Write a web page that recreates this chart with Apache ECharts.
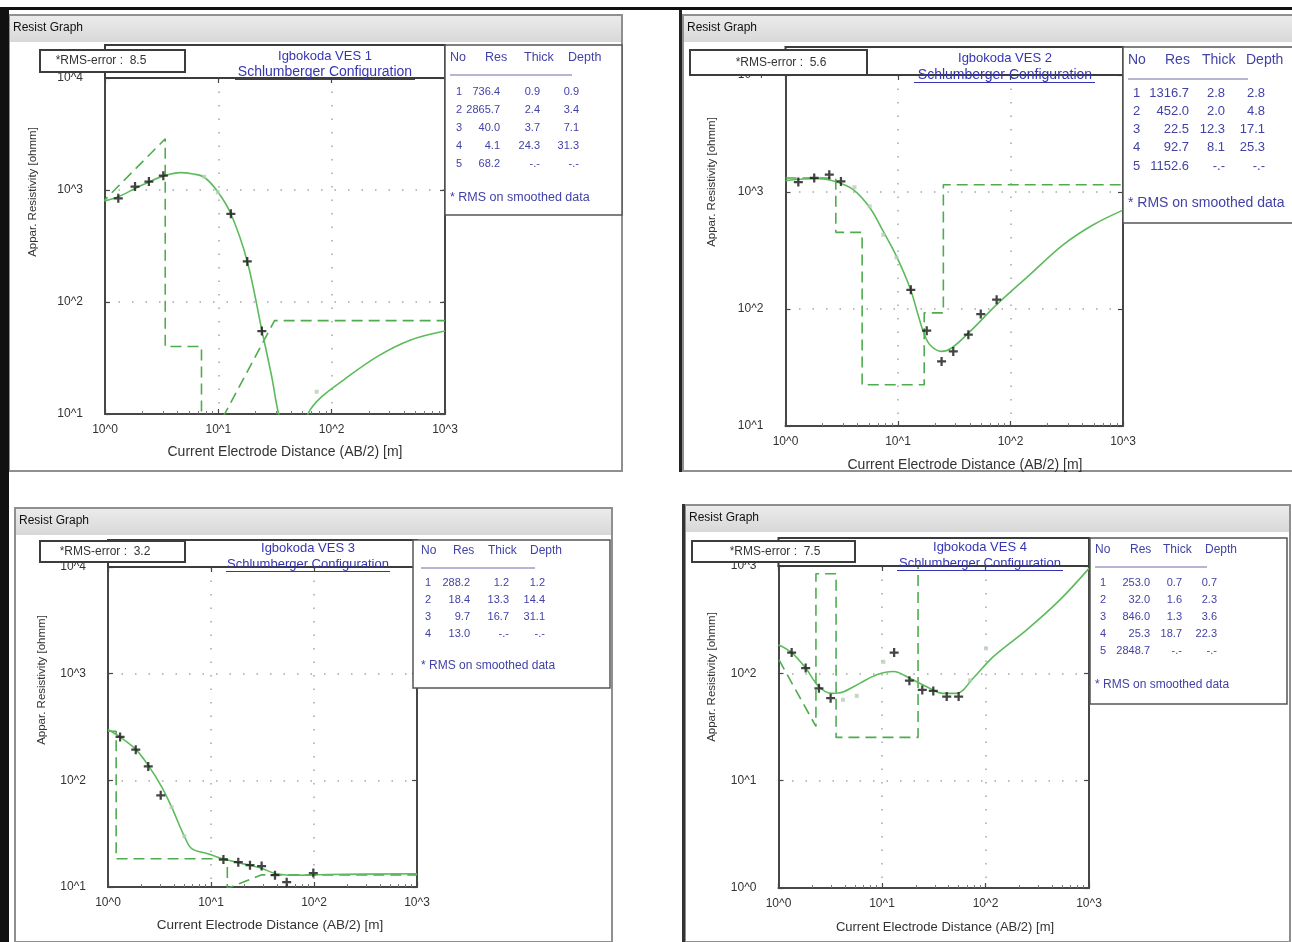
<!DOCTYPE html>
<html>
<head>
<meta charset="utf-8">
<title>Igbokoda VES resistivity curves</title>
<script src="https://cdn.jsdelivr.net/npm/echarts@6/dist/echarts.min.js"></script>
<style>
html, body { margin: 0; padding: 0; background: #fff; }
#main { width: 1292px; height: 942px; }
</style>
</head>
<body>
<div id="main"></div>
<script>
// x: AB/2 [m], y: apparent resistivity [ohmm]
const xRange = [1, 1000];
const xTickLabels = ['10^0', '10^1', '10^2', '10^3'];
const yTickLabelsHigh = ['10^1', '10^2', '10^3', '10^4'];
const yTickLabelsLow = ['10^0', '10^1', '10^2', '10^3'];
const layerHeader = ['No', 'Res', 'Thick', 'Depth'];

// VES 1
const ves1Measured = [[1.31, 843], [1.84, 1072], [2.44, 1189], [3.27, 1343], [12.9, 613], [18.0, 230], [24.2, 55]];
const ves1Smoothed = [[7.5, 1315], [9.9, 955], [73.8, 15.8]];
const ves1Curve = [[1, 800], [1.31, 870], [1.84, 1030], [2.44, 1180], [3.27, 1330], [4.6, 1430], [6.0, 1390], [7.5, 1300],
  [9.7, 990], [12.9, 613], [18, 230], [24.2, 56], [29.6, 21.5], [33.9, 10.2], [40, 6], [47, 4.8], [55, 6.2], [62.3, 10.2],
  [80, 14], [127, 20.1], [250, 32.4], [492, 45.6], [1000, 55]];
const ves1Model = [[0.9, 736.4], [3.4, 2865.7], [3.4, 40], [7.1, 40], [7.1, 4.1], [31.3, 68.2], [1000, 68.2]];
const ves1Layers = [['1', '736.4', '0.9', '0.9'], ['2', '2865.7', '2.4', '3.4'], ['3', '40.0', '3.7', '7.1'],
  ['4', '4.1', '24.3', '31.3'], ['5', '68.2', '-.-', '-.-']];

// VES 2
const ves2Measured = [[1.30, 1217], [1.80, 1320], [2.45, 1406], [3.11, 1232], [13.0, 146], [18.0, 65.3], [24.4, 35.6],
  [31.0, 43.4], [42.2, 60.3], [54.4, 90.6], [75.3, 120]];
const ves2Smoothed = [[4.1, 1097], [5.6, 754], [7.4, 431], [9.7, 276]];
const ves2Curve = [[1, 1250], [1.44, 1290], [2.0, 1300], [2.85, 1217], [4.0, 1047], [5.64, 730], [7.4, 460], [9.7, 282],
  [12.8, 151], [15.1, 89], [16.8, 64], [19.2, 49.5], [24.4, 43.4], [30, 46.4], [43.8, 64.4], [75.3, 109], [148, 196],
  [295, 355], [545, 525], [1000, 700]];
const ves2Model = [[1, 1316.7], [2.8, 1316.7], [2.8, 452], [4.8, 452], [4.8, 22.5], [17.1, 22.5], [17.1, 92.7],
  [25.3, 92.7], [25.3, 1152.6], [1000, 1152.6]];
const ves2Layers = [['1', '1316.7', '2.8', '2.8'], ['2', '452.0', '2.0', '4.8'], ['3', '22.5', '12.3', '17.1'],
  ['4', '92.7', '8.1', '25.3'], ['5', '1152.6', '-.-', '-.-']];

// VES 3
const ves3Measured = [[1.31, 255], [1.86, 194], [2.46, 135], [3.25, 72.3], [13.2, 18.1], [18.4, 17.1], [23.9, 16.0],
  [31.0, 15.7], [41.8, 12.9], [54.3, 11.1], [98.5, 13.5]];
const ves3Smoothed = [[4.15, 56], [5.5, 29.9]];
const ves3Curve = [[1, 300], [1.31, 255], [1.86, 195], [2.46, 138], [3.32, 87], [4.15, 56], [5.5, 30], [6.5, 22.9],
  [9.3, 20.5], [13.2, 18.3], [22.5, 16.2], [31, 15], [41.8, 13.4], [65, 12.9], [137, 13.1], [1000, 13.3]];
const ves3Model = [[1, 288.2], [1.2, 288.2], [1.2, 18.4], [14.4, 18.4], [14.4, 9.7], [31.1, 13.0], [1000, 13.0]];
const ves3Layers = [['1', '288.2', '1.2', '1.2'], ['2', '18.4', '13.3', '14.4'], ['3', '9.7', '16.7', '31.1'],
  ['4', '13.0', '-.-', '-.-']];

// VES 4
const ves4Measured = [[1.34, 156], [1.83, 112], [2.46, 72.6], [3.19, 58.6], [13.1, 156], [18.4, 85.5], [24.5, 70],
  [31.3, 68.5], [42.2, 60.7], [55, 60.7]];
const ves4Smoothed = [[4.2, 56.7], [5.7, 61.7], [10.3, 128], [71, 86], [101, 171]];
const ves4Curve = [[1, 185], [1.34, 156], [1.83, 112], [2.46, 75], [3.27, 65], [4.2, 67], [6.13, 81], [8.9, 97],
  [12.9, 104], [18.6, 90], [27, 75], [39, 65], [52.6, 65], [76, 90], [119, 143], [250, 254], [523, 483], [1000, 950]];
const ves4Model = [[0.7, 253], [2.3, 32], [2.3, 846], [3.6, 846], [3.6, 25.3], [22.3, 25.3], [22.3, 2848.7]];
const ves4Layers = [['1', '253.0', '0.7', '0.7'], ['2', '32.0', '1.6', '2.3'], ['3', '846.0', '1.3', '3.6'],
  ['4', '25.3', '18.7', '22.3'], ['5', '2848.7', '-.-', '-.-']];

const titles = ['Igbokoda VES 1', 'Igbokoda VES 2', 'Igbokoda VES 3', 'Igbokoda VES 4'];
const rmsErrors = ['8.5', '5.6', '3.2', '7.5'];

// window / plot placement of each panel
const panels = [
  { measured: ves1Measured, smoothed: ves1Smoothed, curve: ves1Curve, model: ves1Model, layers: ves1Layers,
    yRange: [10, 10000], yLabels: yTickLabelsHigh, font: 11, headFont: 12.5, titleFont: [13, 14], nameFont: 14,
    win: { x: 9, y: 15, w: 613, h: 456 }, grid: { l: 105, t: 78, r: 445, b: 414 }, headTop: 45,
    rms: { x: 40, y: 50, w: 145, h: 22, cx: 101 }, titleX: 325, titleY: [56, 72], ulX: [235, 415],
    table: { x: 445, y: 45, w: 177, h: 170 }, headX: [450, 485, 524, 568], colX: [456, 500, 540, 579],
    headY: 58, rowY: 92, rowDy: 18, ulY: 75, ulW: 122, noteY: 198, xName: [285, 452], yName: [33, 192] },
  { measured: ves2Measured, smoothed: ves2Smoothed, curve: ves2Curve, model: ves2Model, layers: ves2Layers,
    yRange: [10, 10000], yLabels: yTickLabelsHigh, font: 13, headFont: 14, titleFont: [13, 14], nameFont: 14,
    win: { x: 683, y: 15, w: 612, h: 456 }, grid: { l: 785.5, t: 75, r: 1123, b: 426 }, headTop: 47,
    rms: { x: 690, y: 50, w: 177, h: 25, cx: 781 }, titleX: 1005, titleY: [58, 75], ulX: [914, 1095],
    table: { x: 1123, y: 47, w: 172, h: 176 }, headX: [1128, 1165, 1202, 1246], colX: [1133, 1189, 1225, 1265],
    headY: 60, rowY: 93, rowDy: 18.3, ulY: 79, ulW: 120, noteY: 203, xName: [965, 465], yName: [712, 182] },
  { measured: ves3Measured, smoothed: ves3Smoothed, curve: ves3Curve, model: ves3Model, layers: ves3Layers,
    yRange: [10, 10000], yLabels: yTickLabelsHigh, font: 11, headFont: 12, titleFont: [13, 13], nameFont: 13.5,
    win: { x: 15, y: 508, w: 597, h: 434 }, grid: { l: 108, t: 567, r: 417, b: 887 }, headTop: 540,
    rms: { x: 40, y: 541, w: 145, h: 21, cx: 105 }, titleX: 308, titleY: [548, 564], ulX: [226, 390],
    table: { x: 413, y: 540, w: 197, h: 148 }, headX: [421, 453, 488, 530], colX: [425, 470, 509, 545],
    headY: 551, rowY: 583, rowDy: 17, ulY: 568, ulW: 114, noteY: 666, xName: [270, 925], yName: [42, 680] },
  { measured: ves4Measured, smoothed: ves4Smoothed, curve: ves4Curve, model: ves4Model, layers: ves4Layers,
    yRange: [1, 1000], yLabels: yTickLabelsLow, font: 11, headFont: 12, titleFont: [13, 13], nameFont: 13,
    win: { x: 685, y: 505, w: 605, h: 437 }, grid: { l: 778.5, t: 566, r: 1089, b: 888 }, headTop: 538,
    rms: { x: 692, y: 541, w: 163, h: 21, cx: 775 }, titleX: 980, titleY: [547, 563], ulX: [897, 1063],
    table: { x: 1090, y: 538, w: 197, h: 166 }, headX: [1095, 1130, 1163, 1205], colX: [1100, 1150, 1182, 1217],
    headY: 550, rowY: 583, rowDy: 17, ulY: 567, ulW: 112, noteY: 685, xName: [945, 927], yName: [712, 677] }
];

const FONT = '"Liberation Sans", Arial, sans-serif';
const BLUE = '#3535b4';
const TABLE_BLUE = '#4242a6';
const AXIS_COLOR = '#474747';
const plusSymbol = 'path://M3,0H5V3H8V5H5V8H3V5H0V3H3Z';

function text(str, x, y, size, color, align, extra) {
  return Object.assign({
    type: 'text', x: x, y: y, z: 12,
    style: { text: str, font: size + 'px ' + FONT, fill: color,
      align: align, textAlign: align, verticalAlign: 'middle', textVerticalAlign: 'middle' }
  }, extra || {});
}

function line(x1, y1, x2, y2, color, width) {
  return { type: 'line', z: 12, shape: { x1: x1, y1: y1, x2: x2, y2: y2 }, style: { stroke: color, lineWidth: width } };
}

const grid = [], xAxis = [], yAxis = [], series = [], graphic = [];

// black picture frame
graphic.push({ type: 'rect', z: 20, shape: { x: 0, y: 7, width: 1292, height: 3 }, style: { fill: '#111' } });
graphic.push({ type: 'rect', z: 20, shape: { x: 0, y: 7, width: 9, height: 935 }, style: { fill: '#111' } });
graphic.push({ type: 'rect', z: 20, shape: { x: 679, y: 10, width: 3, height: 462 }, style: { fill: '#222' } });
graphic.push({ type: 'rect', z: 20, shape: { x: 682, y: 504, width: 3, height: 438 }, style: { fill: '#333' } });

panels.forEach(function (p, i) {
  const g = p.grid;
  grid.push({ left: g.l, top: g.t, width: g.r - g.l, height: g.b - g.t });

  const tick = { show: true, inside: true, length: 5, lineStyle: { color: AXIS_COLOR, width: 1.2 } };
  const axLine = { show: true, onZero: false, lineStyle: { color: AXIS_COLOR, width: 2 } };
  const gridLine = { show: true, lineStyle: { color: '#a6a6a6', width: 1.5, type: [1.5, 12] } };

  xAxis.push({
    type: 'log', logBase: 10, gridIndex: i, position: 'bottom', min: xRange[0], max: xRange[1],
    axisLine: axLine, axisTick: tick,
    minorTick: { show: true, splitNumber: 8, length: 3, lineStyle: { color: '#777' } },
    axisLabel: { margin: 10, color: '#333', fontSize: 12, fontFamily: FONT, showMinLabel: true, showMaxLabel: true,
      formatter: function (v) { return xTickLabels[Math.round(Math.log10(v / xRange[0]))]; } },
    splitLine: gridLine
  });
  xAxis.push({
    type: 'log', logBase: 10, gridIndex: i, position: 'top', min: xRange[0], max: xRange[1],
    axisLine: axLine, axisTick: tick, axisLabel: { show: false }, splitLine: { show: false }
  });
  yAxis.push({
    type: 'log', logBase: 10, gridIndex: i, position: 'left', min: p.yRange[0], max: p.yRange[1],
    axisLine: axLine, axisTick: tick,
    axisLabel: { margin: 22, color: '#333', fontSize: 12, fontFamily: FONT, showMinLabel: true, showMaxLabel: true,
      formatter: function (v) { return p.yLabels[Math.round(Math.log10(v / p.yRange[0]))]; } },
    splitLine: gridLine
  });
  yAxis.push({
    type: 'log', logBase: 10, gridIndex: i, position: 'right', min: p.yRange[0], max: p.yRange[1],
    axisLine: axLine, axisTick: tick, axisLabel: { show: false }, splitLine: { show: false }
  });

  const ax = { xAxisIndex: 2 * i, yAxisIndex: 2 * i };
  series.push(Object.assign({ type: 'line', data: p.model, symbol: 'none', clip: true,
    lineStyle: { color: '#4eac4e', width: 1.6, type: [11, 6] }, z: 3 }, ax));
  series.push(Object.assign({ type: 'line', data: p.curve, symbol: 'none', smooth: 0.35, clip: true,
    lineStyle: { color: '#5cbb5c', width: 1.6 }, z: 4 }, ax));
  series.push(Object.assign({ type: 'scatter', data: p.smoothed, symbol: 'rect', symbolSize: 4, clip: true,
    itemStyle: { color: '#b6ceb6' }, z: 5 }, ax));
  series.push(Object.assign({ type: 'scatter', data: p.measured, symbol: plusSymbol, symbolSize: 9, clip: true,
    itemStyle: { color: '#151515' }, z: 6 }, ax));

  // window chrome
  const w = p.win;
  graphic.push({ type: 'rect', z: 1, shape: { x: w.x, y: w.y, width: w.w, height: 27 },
    style: { fill: { type: 'linear', x: 0, y: 0, x2: 0, y2: 1,
      colorStops: [{ offset: 0, color: '#ececec' }, { offset: 1, color: '#d8d8d8' }] } } });
  graphic.push({ type: 'rect', z: 1, shape: { x: w.x, y: w.y, width: w.w, height: w.h },
    style: { fill: null, stroke: '#8f8f8f', lineWidth: 2 } });
  graphic.push(text('Resist Graph', w.x + 4, w.y + 13, 12, '#111', 'left'));

  // header box with title and RMS error
  graphic.push({ type: 'rect', z: 10, shape: { x: g.l, y: p.headTop, width: g.r - g.l, height: g.t - p.headTop },
    style: { fill: '#fff', stroke: '#3c3c3c', lineWidth: 2 } });
  graphic.push({ type: 'rect', z: 11, shape: { x: p.rms.x, y: p.rms.y, width: p.rms.w, height: p.rms.h },
    style: { fill: '#fff', stroke: '#3c3c3c', lineWidth: 2 } });
  graphic.push(text('*RMS-error :  ' + rmsErrors[i], p.rms.cx, p.rms.y + p.rms.h / 2, 12, '#333', 'center'));
  graphic.push(text(titles[i], p.titleX, p.titleY[0], p.titleFont[0], BLUE, 'center'));
  graphic.push(text('Schlumberger Configuration', p.titleX, p.titleY[1], p.titleFont[1], BLUE, 'center'));
  graphic.push(line(p.ulX[0], p.titleY[1] + 7.5, p.ulX[1], p.titleY[1] + 7.5, BLUE, 1));

  // layer table
  const t = p.table;
  graphic.push({ type: 'rect', z: 10, shape: { x: t.x, y: t.y, width: t.w, height: t.h },
    style: { fill: '#fff', stroke: '#555', lineWidth: 1.5 } });
  layerHeader.forEach(function (h, k) {
    graphic.push(text(h, p.headX[k], p.headY, p.headFont, TABLE_BLUE, 'left'));
  });
  graphic.push(line(p.headX[0], p.ulY, p.headX[0] + p.ulW, p.ulY, '#6a6aa8', 1));
  p.layers.forEach(function (row, r) {
    const y = p.rowY + r * p.rowDy;
    graphic.push(text(row[0], p.colX[0], y, p.font, TABLE_BLUE, 'left'));
    graphic.push(text(row[1], p.colX[1], y, p.font, TABLE_BLUE, 'right'));
    graphic.push(text(row[2], p.colX[2], y, p.font, TABLE_BLUE, 'right'));
    graphic.push(text(row[3], p.colX[3], y, p.font, TABLE_BLUE, 'right'));
  });
  graphic.push(text('* RMS on smoothed data', p.headX[0], p.noteY, p.headFont, TABLE_BLUE, 'left'));

  // axis names
  graphic.push(text('Current Electrode Distance (AB/2) [m]', p.xName[0], p.xName[1], p.nameFont, '#333', 'center'));
  graphic.push(text('Appar. Resistivity [ohmm]', p.yName[0], p.yName[1], 11.5, '#333', 'center',
    { rotation: Math.PI / 2 }));
});

const chart = echarts.init(document.getElementById('main'));
chart.setOption({
  backgroundColor: '#fff',
  animation: false,
  grid: grid,
  xAxis: xAxis,
  yAxis: yAxis,
  series: series,
  graphic: graphic
});
</script>
</body>
</html>
